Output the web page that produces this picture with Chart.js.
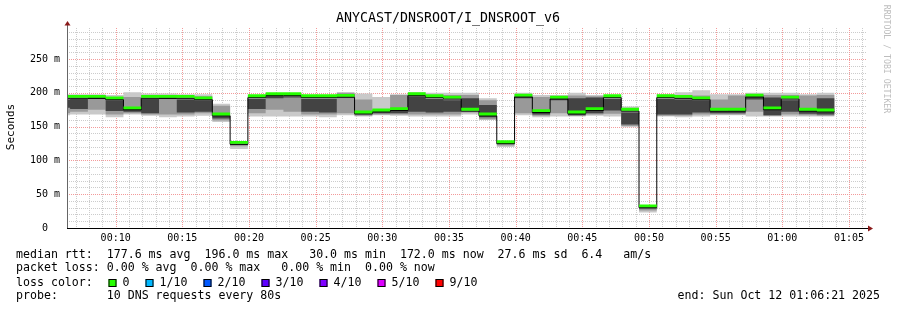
<!DOCTYPE html>
<html>
<head>
<meta charset="utf-8">
<script src="https://cdn.jsdelivr.net/npm/chart.js@4.4.1/dist/chart.umd.min.js"></script>
<style>
  html, body { margin: 0; padding: 0; background: #fff; }
  canvas { display: block; }
</style>
</head>
<body>
<canvas id="smoke" width="897" height="310"></canvas>
<script>
// probe steps: every 80 s, first visible step starts 00:05:15 (seconds since midnight)
const firstStep = 315;
const stepLen = 80;
const viewStart = 381;   // 00:06:21
const viewEnd = 3981;    // 01:06:21

// median rtt per step (ms)
const median = [192, 192, 192, 190, 175, 192, 192, 192, 190, 166, 124,
  193, 196, 196, 193, 193, 193.5, 169, 172, 174, 196,
  193, 191, 173, 166, 125, 194, 171, 191, 169, 174,
  193, 173, 30, 193, 192, 190, 173, 173, 194, 175,
  191, 173, 172];

// smoke: sorted pings grouped in three bands (ms)
const pingLo = [167, 168, 168, 164, 168, 166, 164, 165, 166, 157, 117,
  165, 165, 165, 165, 164, 167, 165, 167, 166, 165,
  165, 165, 168, 160, 120, 167, 164, 165, 165, 166,
  165, 149, 23, 165, 164, 165, 167, 167, 165, 165,
  165, 165, 165];
const midLo = [170, 172, 175, 168, 170, 168, 168, 168, 170, 159, 121,
  170, 175, 172, 168, 168, 170, 166, 168, 168, 168,
  168, 168, 171, 161, 122, 170, 166, 170, 166, 168,
  169, 151, 26, 166, 166, 168, 168, 168, 172, 166,
  168, 167, 166];
const innerLo = [178, 176, 191, 173, 172, 170, 191, 171, 172, 162, 123,
  176, 192, 193, 172, 171, 194, 168, 170, 170, 172,
  171, 172, 175, 164, 124, 192, 168, 189, 167, 170,
  174, 153, 29, 168, 168, 171, 170, 170, 190, 167,
  172, 169, 168];
const innerHi = [190, 191, 195, 189, 176, 191, 193, 190, 189, 167, 124.5,
  191, 196, 195, 191, 191, 198, 172, 173, 176, 195,
  191, 189, 192, 182, 125.5, 195, 172, 193, 192, 193,
  191, 171, 30.5, 191, 190, 189, 174, 176, 196, 193,
  189, 175, 192];
const midHi = [195, 195, 197, 194, 194, 197, 196, 194, 195, 181, 125,
  195, 198, 197, 195, 195, 200, 190, 175, 197, 199,
  197, 197, 197, 189, 126.5, 198, 194, 195, 196, 195,
  195, 177, 30.8, 194, 197, 196, 190, 196, 198, 197,
  197, 196, 197];
const pingHi = [198, 198, 198, 197, 201, 199, 199, 198, 198, 184, 126,
  197, 199, 198, 197, 196, 201, 199, 194, 198, 201,
  200, 200, 200, 192, 127, 200, 197, 197, 200, 197,
  197, 180, 31, 198, 201, 204, 198, 198, 200, 200,
  200, 198, 200];

const yLabels = ['0\u00a0\u00a0', '50 m', '100 m', '150 m', '200 m', '250 m'];
const lossLabels = ['0', '1/10', '2/10', '3/10', '4/10', '5/10', '9/10'];
const lossColors = ['#26ff00', '#00b8ff', '#0059ff', '#5e00ff', '#7e00ff', '#dd00ff', '#ff0000'];

const stepTimes = median.map((_, i) => firstStep + i * stepLen);

// grid: one line a minute, one every 10 ms
const minuteTicks = [];
for (let t = 420; t < viewEnd; t += 60) minuteTicks.push(t);
const msTicks = [];
for (let v = 0; v <= 290; v += 10) msTicks.push(v);

let steps = (vals, off) => {
  off = off || 0;
  const pts = vals.map((v, i) => ({ x: stepTimes[i], y: v + off }));
  pts.push({ x: firstStep + vals.length * stepLen, y: vals[vals.length - 1] + off });
  return pts;
}

let band = (data, color, fillTo, order) => ({
  data: data,
  borderWidth: 0,
  borderColor: 'rgba(0,0,0,0)',
  backgroundColor: color,
  fill: fillTo,
  pointRadius: 0,
  stepped: true,
  order: order
});

let hhmm = (v) => {
  const h = Math.floor(v / 3600), m = Math.floor((v % 3600) / 60);
  return String(h).padStart(2, '0') + ':' + String(m).padStart(2, '0');
}

const MONO = '"DejaVu Sans Mono", monospace';
const majorGrid = '#f39a9a';
const minorGrid = '#cccccc';

// dotted rrdtool-like grid, minor first then major on top
const dotGrid = {
  id: 'dotGrid',
  beforeDatasetsDraw(chart) {
    const c = chart.ctx;
    const a = chart.chartArea;
    const xs = chart.scales.x, ys = chart.scales.y;
    c.save();
    c.lineWidth = 1;
    c.setLineDash([1, 1]);
    [false, true].forEach((major) => {
      c.strokeStyle = major ? majorGrid : minorGrid;
      minuteTicks.forEach((t) => {
        if ((t % 300 === 0) !== major) return;
        const px = Math.round(xs.getPixelForValue(t)) + 0.5;
        c.beginPath();
        c.moveTo(px, a.top);
        c.lineTo(px, a.bottom);
        c.stroke();
      });
      msTicks.forEach((v) => {
        if (v === 0 || (v % 50 === 0) !== major) return;
        const py = Math.round(ys.getPixelForValue(v)) + 0.5;
        c.beginPath();
        c.moveTo(a.left, py);
        c.lineTo(a.right, py);
        c.stroke();
      });
    });
    c.restore();
  }
};

const decor = {
  id: 'decor',
  beforeDraw(chart) {
    const c = chart.ctx;
    c.save();
    c.fillStyle = '#fff';
    c.fillRect(0, 0, chart.width, chart.height);
    c.restore();
  },
  afterDraw(chart) {
    const c = chart.ctx;
    const a = chart.chartArea;
    c.save();
    // axes
    c.lineWidth = 1;
    c.strokeStyle = '#000';
    c.beginPath();
    c.moveTo(a.left, a.bottom + 0.5);
    c.lineTo(a.right + 2, a.bottom + 0.5);
    c.stroke();
    c.strokeStyle = '#666';
    c.beginPath();
    c.moveTo(a.left + 0.5, a.bottom);
    c.lineTo(a.left + 0.5, a.top - 3);
    c.stroke();
    c.fillStyle = '#8b1a1a';
    c.beginPath();
    c.moveTo(a.right + 1, a.bottom - 2.5);
    c.lineTo(a.right + 6, a.bottom + 0.5);
    c.lineTo(a.right + 1, a.bottom + 3.5);
    c.fill();
    c.beginPath();
    c.moveTo(a.left - 2.5, a.top - 2.5);
    c.lineTo(a.left + 0.5, a.top - 7);
    c.lineTo(a.left + 3.5, a.top - 2.5);
    c.fill();

    // title
    c.fillStyle = '#000';
    c.font = '13.3px ' + MONO;
    c.textAlign = 'center';
    c.textBaseline = 'middle';
    c.fillText('ANYCAST/DNSROOT/I_DNSROOT_v6', 448, 19);

    // y title
    c.save();
    c.translate(11, 127);
    c.rotate(-Math.PI / 2);
    c.font = '11px ' + MONO;
    c.fillText('Seconds', 0, 0);
    c.restore();

    // watermark
    c.save();
    c.translate(886, 59);
    c.rotate(Math.PI / 2);
    c.font = '8.2px ' + MONO;
    c.fillStyle = '#bdbdbd';
    c.fillText('RRDTOOL / TOBI OETIKER', 0, 0);
    c.restore();

    // legend
    c.font = '11.6px ' + MONO;
    c.textAlign = 'left';
    c.fillStyle = '#000';
    c.fillText('median rtt:  177.6 ms avg  196.0 ms max   30.0 ms min  172.0 ms now  27.6 ms sd  6.4   am/s', 16, 254.5);
    c.fillText('packet loss: 0.00 % avg  0.00 % max   0.00 % min  0.00 % now', 16, 268);
    c.fillText('loss color:', 16, 282.5);
    let x = 108.5;
    lossLabels.forEach((lab, i) => {
      c.fillStyle = lossColors[i];
      c.fillRect(x, 279, 8, 8);
      c.strokeStyle = '#000';
      c.strokeRect(x + 0.5, 279.5, 7, 7);
      c.fillStyle = '#000';
      c.fillText(lab, x + 14, 282.5);
      x += 14 + lab.length * 7 + 16;
    });
    c.fillText('probe:       10 DNS requests every 80s', 16, 295.5);
    c.textAlign = 'right';
    c.fillText('end: Sun Oct 12 01:06:21 2025', 880, 295.5);
    c.restore();
  }
};

const green = lossColors[0];

new Chart(document.getElementById('smoke'), {
  type: 'line',
  data: {
    datasets: [
      band(steps(pingLo), 'rgba(0,0,0,0)', false, 100),
      band(steps(pingHi), '#c9c9c9', 0, 90),
      band(steps(midLo), 'rgba(0,0,0,0)', false, 80),
      band(steps(midHi), '#999999', 2, 70),
      band(steps(innerLo), 'rgba(0,0,0,0)', false, 60),
      band(steps(innerHi), '#434343', 4, 50),
      {
        data: steps(median),
        borderColor: '#000',
        borderWidth: 1,
        pointRadius: 0,
        fill: false,
        stepped: true,
        order: 20
      },
      band(steps(median, 0.6), 'rgba(0,0,0,0)', false, 15),
      band(steps(median, 4.8), green, 7, 10)
    ]
  },
  options: {
    responsive: false,
    animation: false,
    events: [],
    layout: { padding: { top: 28, right: 30, left: 0, bottom: 0 } },
    plugins: {
      legend: { display: false },
      tooltip: { enabled: false },
      filler: { propagate: false }
    },
    scales: {
      x: {
        type: 'linear',
        min: viewStart,
        max: viewEnd,
        afterFit: (s) => { s.height = 82; },
        afterBuildTicks: (s) => { s.ticks = minuteTicks.map(v => ({ value: v })); },
        ticks: {
          autoSkip: false,
          maxRotation: 0,
          padding: 4,
          color: '#000',
          font: { family: MONO, size: 10 },
          callback: (v) => v % 300 === 0 ? hhmm(v) : ''
        },
        grid: { display: false, drawTicks: false },
        border: { display: false }
      },
      y: {
        min: 0,
        max: 296,
        afterFit: (s) => { s.width = 67; },
        afterBuildTicks: (s) => { s.ticks = msTicks.map(v => ({ value: v })); },
        ticks: {
          autoSkip: false,
          padding: 7,
          color: '#000',
          font: { family: MONO, size: 10 },
          callback: (v) => v % 50 === 0 ? yLabels[v / 50] : ''
        },
        grid: { display: false, drawTicks: false },
        border: { display: false }
      }
    }
  },
  plugins: [dotGrid, decor]
});
</script>
</body>
</html>
